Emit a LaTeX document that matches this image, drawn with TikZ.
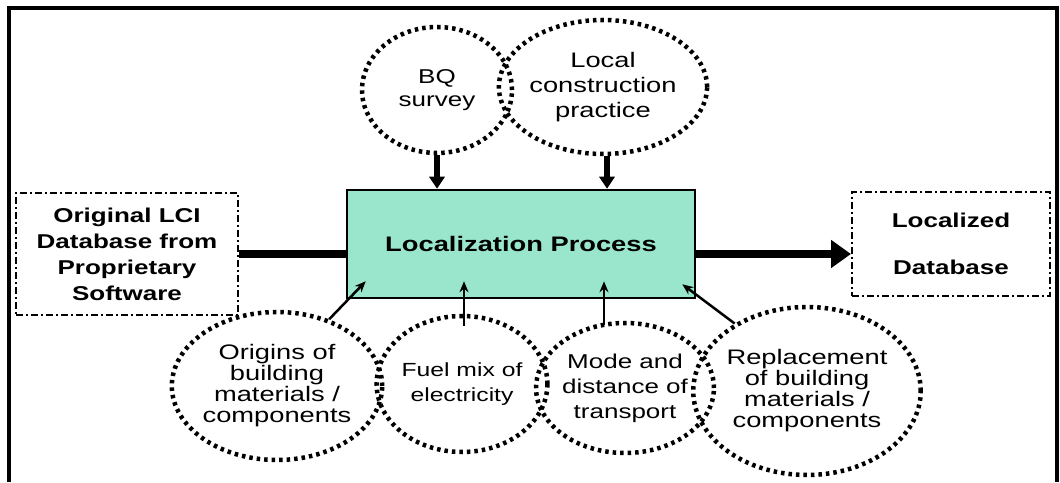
\documentclass[tikz,border=0pt]{standalone}
\usepackage{fontspec}
\setmainfont[FakeStretch=1.3]{Liberation Sans}
\usepackage{tikz}
\usepackage{xcolor}
\usetikzlibrary{arrows.meta, shapes, calc}
\definecolor{procgreen}{RGB}{153,230,204}

\begin{document}
\begin{tikzpicture}[
    x=1pt, y=1pt,
    source/.style={rectangle, draw, line width=2pt, dash pattern=on 7pt off 3pt on 2pt off 3pt, align=center, inner sep=0pt, font=\fontsize{20}{26}\selectfont\bfseries},
    process/.style={rectangle, draw, line width=2.5pt, fill=procgreen, minimum width=348pt, minimum height=108pt, font=\fontsize{21}{25}\selectfont\bfseries},
    factor/.style={ellipse, draw, line width=4.5pt, dash pattern=on 3.5pt off 4pt, align=center, inner sep=0pt, font=\fontsize{20}{23}\selectfont},
    flow/.style={line width=8pt},
    drop/.style={-{Triangle[length=12pt, width=15pt]}, line width=6pt},
    feed/.style={-{Stealth[length=11pt, width=9pt]}, line width=2.5pt}
]
\useasboundingbox (0,0) rectangle (1060,482);

% Frame
\draw[line width=4pt] (9,0) -- (9,474) -- (1057,474) -- (1057,0);

% Nodes
\node[process] (proc) at (521,238) {Localization Process};
\node[source, minimum width=222pt, minimum height=122pt] (orig) at (127,228)
    {Original LCI\\Database from\\Proprietary\\Software};
\node[source, minimum width=198pt, minimum height=104pt, font=\fontsize{20}{47}\selectfont\bfseries] (loc) at (951,238)
    {Localized\\Database};

\node[factor, minimum width=150pt, minimum height=126pt] (bq) at (437,392) {BQ\\survey};
\node[factor, minimum width=160pt, minimum height=134pt, font=\fontsize{21}{25}\selectfont] (lcp) at (603,395) {Local\\construction\\practice};

\node[factor, minimum width=192pt, minimum height=148pt, font=\fontsize{21}{21}\selectfont] (orgn) at (277,96) {Origins of\\building\\materials /\\components};
\node[factor, minimum width=156pt, minimum height=136pt, font=\fontsize{19}{25}\selectfont] (fuel) at (462,98) {Fuel mix of\\electricity};
\node[factor, minimum width=160pt, minimum height=130pt, font=\fontsize{20}{25}\selectfont] (mode) at (625,94) {Mode and\\distance of\\transport};
\node[factor, minimum width=204pt, minimum height=168pt, font=\fontsize{21}{21}\selectfont] (repl) at (807,91) {Replacement\\of building\\materials /\\components};

% Edges
\draw[flow] (orig.east) -- (orig.east -| proc.west);
\draw[flow, -{Triangle[length=20pt, width=27pt]}] (proc.east |- orig.east) -- (loc.west |- orig.east);

\draw[drop] (bq.south) -- (bq.south |- proc.north);
\draw[drop] ($(lcp.south)+(4,0)$) -- ($(lcp.south |- proc.north)+(4,0)$);

\draw[feed] (orgn.52) -- ($(proc.south west)+(20,18)$);
\draw[feed] ($(fuel.north)+(2,-12)$) -- ($(fuel.north |- proc.south)+(2,18)$);
\draw[feed] ($(mode.north)+(-21,-4)$) -- ($(mode.north |- proc.south)+(-21,18)$);
\draw[feed] (repl.137) -- ($(proc.south east)+(-14,15)$);

\end{tikzpicture}
\end{document}
